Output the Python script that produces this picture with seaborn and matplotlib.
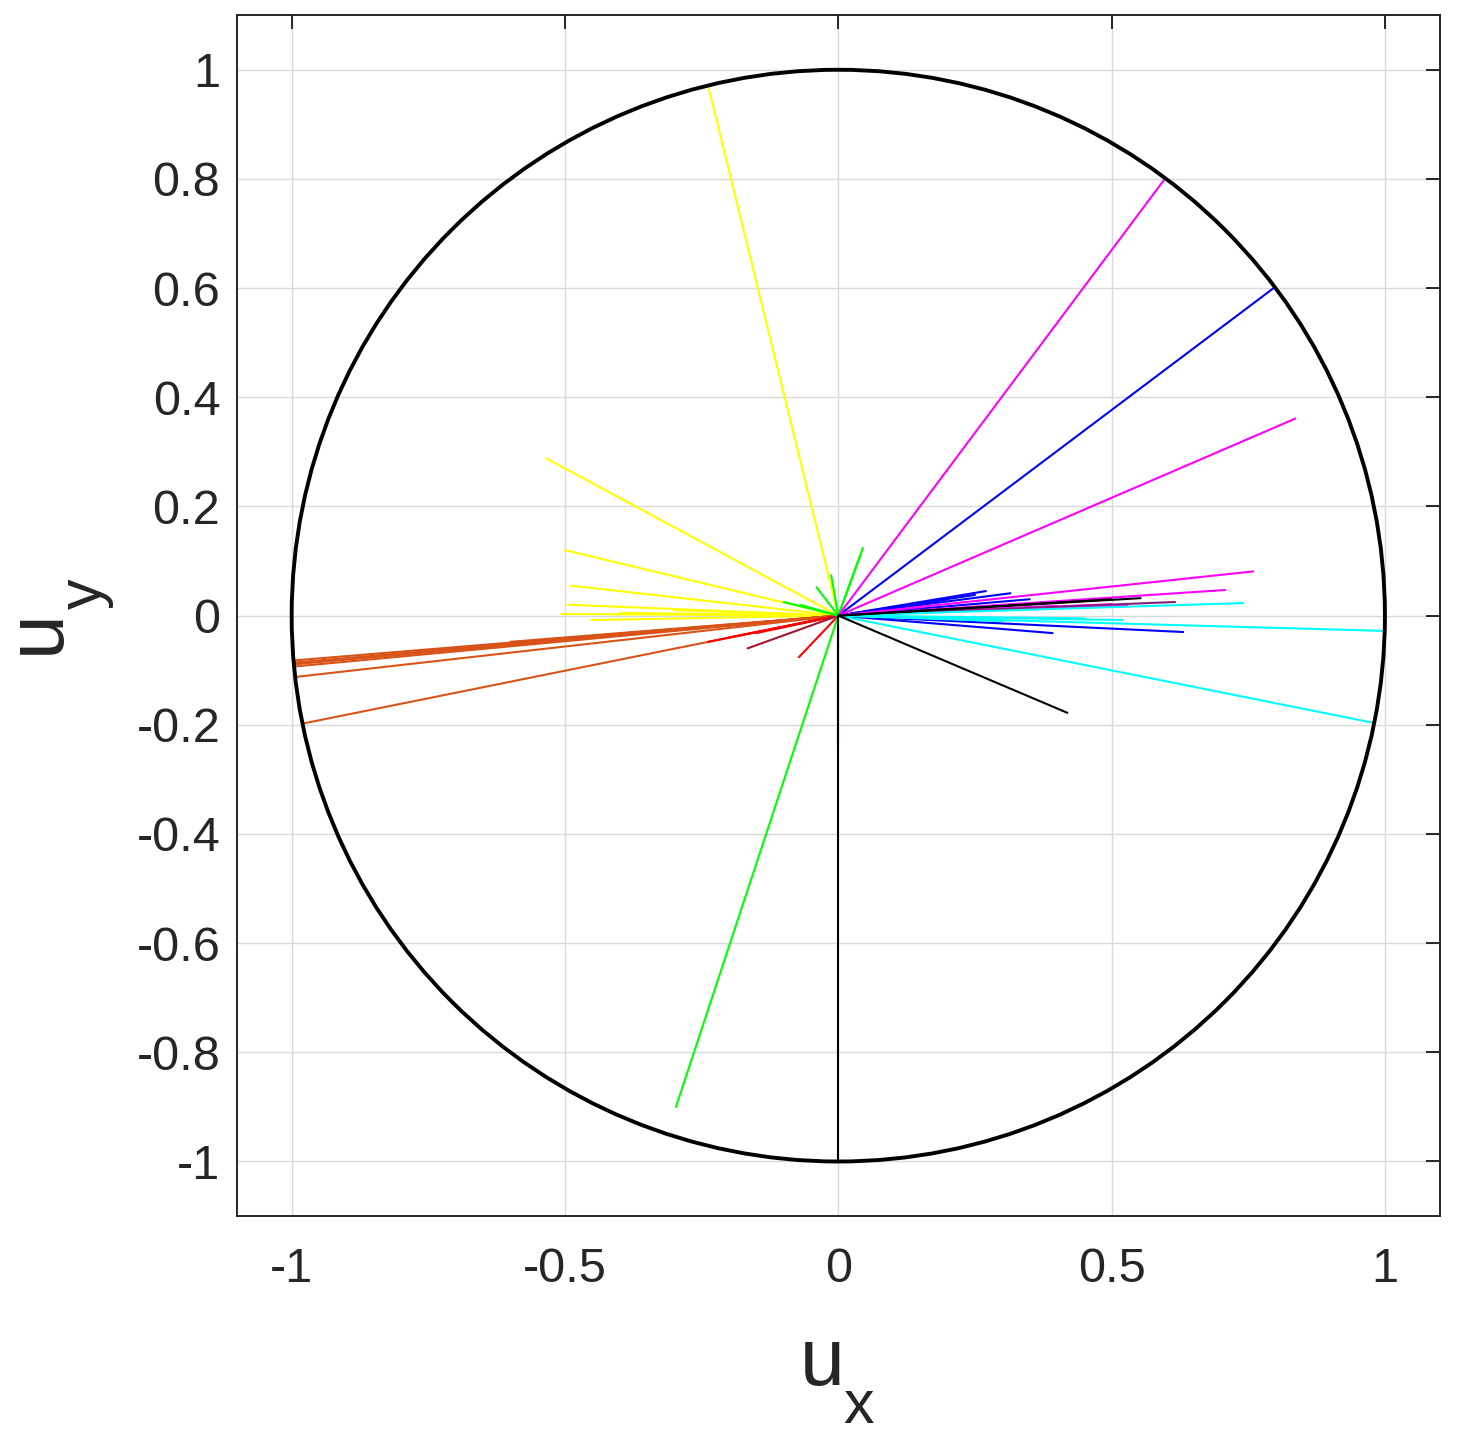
import numpy as np
import pandas as pd
import seaborn as sns
import matplotlib.pyplot as plt
from matplotlib.patches import Circle

# ---------------------------------------------------------------
# segment end points (each segment starts at the origin)
# ---------------------------------------------------------------
yellow_x = [-0.238, -0.534, -0.500, -0.490, -0.496, -0.507, -0.452, -0.300, -0.400]
yellow_y = [0.970, 0.288, 0.120, 0.055, 0.020, 0.003, -0.008, 0.010, 0.005]

orange_x = [-0.995, -0.995, -0.994, -0.993, -0.990, -0.976, -0.800, -0.600, -0.700]
orange_y = [-0.082, -0.086, -0.089, -0.093, -0.112, -0.197, -0.070, -0.048, -0.060]

red_x = [-0.238, -0.200, -0.150, 0.000, -0.072]
red_y = [-0.048, -0.040, -0.032, -0.237, -0.076]

darkred_x = [-0.166]
darkred_y = [-0.060]

green_x = [-0.297, 0.045, 0.040, -0.013, -0.040, -0.100, -0.070]
green_y = [-0.900, 0.124, 0.110, 0.074, 0.052, 0.025, 0.020]

blue_x = [0.795, 0.315, 0.270, 0.250, 0.200, 0.350, 0.631, 0.392]
blue_y = [0.599, 0.041, 0.045, 0.038, 0.030, 0.030, -0.030, -0.032]

magenta_x = [0.595, 0.836, 0.759, 0.708, 0.529, 0.500, 0.450, 0.400]
magenta_y = [0.797, 0.361, 0.081, 0.047, 0.019, 0.021, 0.017, 0.018]

purple_x = [0.616]
purple_y = [0.025]

cyan_x = [1.000, 0.982, 0.741, 0.520, 0.450, 0.300]
cyan_y = [-0.028, -0.197, 0.023, -0.008, -0.005, -0.010]

black_x = [0.000, 0.419, 0.553, 0.500]
black_y = [-1.000, -0.178, 0.032, 0.030]

groups = {
    "yellow": (yellow_x, yellow_y),
    "orange": (orange_x, orange_y),
    "red": (red_x, red_y),
    "darkred": (darkred_x, darkred_y),
    "green": (green_x, green_y),
    "blue": (blue_x, blue_y),
    "magenta": (magenta_x, magenta_y),
    "purple": (purple_x, purple_y),
    "cyan": (cyan_x, cyan_y),
    "black": (black_x, black_y),
}

palette = {
    "yellow": "#FFFF00",
    "orange": "#D95319",
    "red": "#FF0000",
    "darkred": "#A2142F",
    "green": "#00FF00",
    "blue": "#0000FF",
    "magenta": "#FF00FF",
    "purple": "#8C1E7A",
    "cyan": "#00FFFF",
    "black": "#000000",
}

xtick_vals = [-1, -0.5, 0, 0.5, 1]
xtick_labels = ["-1", "-0.5", "0", "0.5", "1"]
ytick_vals = [-1, -0.8, -0.6, -0.4, -0.2, 0, 0.2, 0.4, 0.6, 0.8, 1]
ytick_labels = ["-1", "-0.8", "-0.6", "-0.4", "-0.2", "0", "0.2", "0.4", "0.6", "0.8", "1"]

# build long table: two rows per segment (origin, end)
rows = []
seg = 0
for name, (xs, ys) in groups.items():
    for ex, ey in zip(xs, ys):
        rows.append({"seg": seg, "group": name, "ux": 0.0, "uy": 0.0})
        rows.append({"seg": seg, "group": name, "ux": ex, "uy": ey})
        seg += 1
df = pd.DataFrame(rows)

sns.set_style("whitegrid")
plt.rcParams["font.family"] = ["Liberation Sans", "DejaVu Sans"]
plt.rcParams["axes.unicode_minus"] = False

fig = plt.figure(figsize=(14.63, 14.46), dpi=100)
ax = fig.add_axes([0.162, 0.159, 0.822, 0.8305])

sns.lineplot(
    data=df, x="ux", y="uy", hue="group", units="seg", estimator=None,
    sort=False, palette=palette, linewidth=1.5, legend=False, ax=ax,
)

ax.add_patch(Circle((0, 0), 1.0, fill=False, edgecolor="black", linewidth=2.8, zorder=5))

ax.set_xlim(-1.1, 1.1)
ax.set_ylim(-1.1, 1.1)
ax.set_xticks(xtick_vals)
ax.set_xticklabels(xtick_labels)
ax.set_yticks(ytick_vals)
ax.set_yticklabels(ytick_labels)

ax.grid(True, color="#d9d9d9", linewidth=1.0)
for s in ax.spines.values():
    s.set_edgecolor("#262626")
    s.set_linewidth(1.4)
ax.tick_params(direction="in", top=True, right=True, length=10, width=1.4,
               color="#262626", labelsize=35, labelcolor="#262626")
ax.tick_params(axis="x", pad=22)
ax.tick_params(axis="y", pad=12)

# axis labels: "u" with a dropped subscript, as in the original
ax.set_xlabel("u", fontsize=58, labelpad=25, color="#262626")
ax.set_ylabel("u", fontsize=58, labelpad=44, color="#262626")
ax.xaxis.label.set_x(0.487)
ax.yaxis.label.set_y(0.487)
fig.canvas.draw()
ax.annotate("x", xy=(1, 0), xycoords=ax.xaxis.label, xytext=(-1, -15),
            textcoords="offset points", fontsize=44, color="#262626",
            ha="left", va="baseline", rotation_mode="anchor")
ax.annotate("y", xy=(1, 1), xycoords=ax.yaxis.label, xytext=(18, 0),
            textcoords="offset points", fontsize=44, color="#262626",
            ha="left", va="baseline", rotation=90, rotation_mode="anchor")

fig.savefig("out.png", dpi=100, facecolor="white")
